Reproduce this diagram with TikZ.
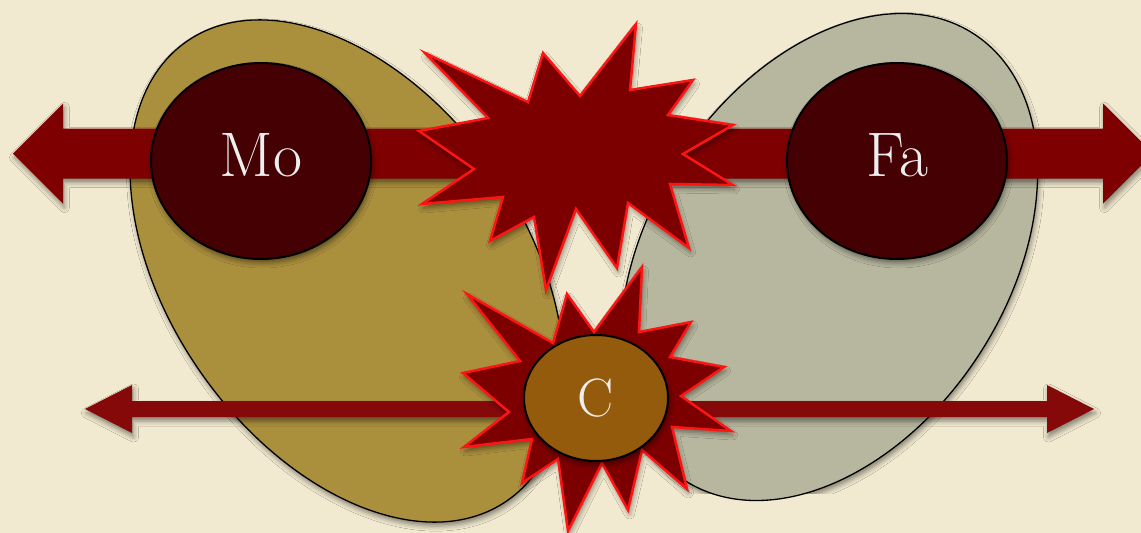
\documentclass[tikz,border=0pt]{standalone}
\usepackage{tikz}
\usetikzlibrary{calc,shapes.geometric,shadows.blur}
\definecolor{parchment}{HTML}{F2EAD0}
\definecolor{mothergold}{HTML}{AA8F3D}
\definecolor{fathergray}{HTML}{B7B69E}
\definecolor{parentdark}{HTML}{440003}
\definecolor{bondred}{HTML}{7E0000}
\definecolor{thinred}{HTML}{850909}
\definecolor{burstred}{HTML}{7D0000}
\definecolor{burstedge}{HTML}{FF1414}
\definecolor{childbrown}{HTML}{955B0C}
\definecolor{labelwhite}{HTML}{EEEEEE}
\tikzset{
every picture/.style={line join=round},
soft shadow/.style={
  blur shadow={shadow xshift=1.5pt,shadow yshift=-4pt,shadow blur radius=5pt,shadow opacity=45}
},
family blob/.style={
  ellipse,
  draw=black,
  line width=1.3pt,
  inner sep=0pt,
  soft shadow
},
parent node/.style={
  ellipse,
  draw=black,
  line width=2pt,
  fill=parentdark,
  text=labelwhite,
  inner sep=0pt,
  minimum width=220pt,
  minimum height=196pt,
  text depth=12pt,
  font=\fontsize{63}{63}\selectfont,
  soft shadow
},
child node/.style={
  ellipse,
  draw=black,
  line width=2pt,
  fill=childbrown,
  text=labelwhite,
  inner sep=0pt,
  minimum width=144pt,
  minimum height=126pt,
  font=\fontsize{54}{54}\selectfont,
  soft shadow
},
burst/.style={
  fill=burstred,
  draw=burstedge,
  line width=2.5pt,
  line join=miter,
  soft shadow
},
bond/.style={fill=bondred, soft shadow},
thin bond/.style={fill=thinred, soft shadow}
}
% fat double arrow: style, from, to, half shaft, half head, head length
\newcommand{\doublebond}[6]{%
  \fill[#1] (#2) -- ($(#2)+(#6,-#5)$) -- ($(#2)+(#6,-#4)$) -- ($(#3)+(-#6,-#4)$)
    -- ($(#3)+(-#6,-#5)$) -- (#3) -- ($(#3)+(-#6,#5)$) -- ($(#3)+(-#6,#4)$)
    -- ($(#2)+(#6,#4)$) -- ($(#2)+(#6,#5)$) -- cycle;}

\begin{document}
\begin{tikzpicture}[x=1pt,y=-1pt]
\fill[parchment] (0,0) rectangle (1141,533);
\useasboundingbox (0,0) rectangle (1141,533);
\clip (0,0) rectangle (1141,533);

% the two families
\node[family blob,fill=mothergold,minimum width=560pt,minimum height=356pt,rotate=-55] (mother side) at (347,271) {};
\node[family blob,fill=fathergray,minimum width=532pt,minimum height=358pt,rotate=57] (father side) at (829,257) {};

% bond between the parents
\coordinate (bond west) at (13,153.5);
\coordinate (bond east) at (1153,153.5);
\doublebond{bond}{bond west}{bond east}{25}{50}{50}

% clash
\draw[burst] (425,53) -- (528,102) -- (543,53) -- (580,96) -- (636,24) -- (630,90)
  -- (693,80) -- (668,115) -- (733,125) -- (683,154) -- (733,185) -- (670,184)
  -- (689,248) -- (628,203) -- (617,268) -- (576,209) -- (546,290) -- (534,217)
  -- (490,241) -- (503,197) -- (422,204) -- (474,169) -- (419,131) -- (488,118) -- cycle;

\node[parent node] (mo) at (261,161) {Mo};
\node[parent node] (fa) at (897,161) {Fa};

% bond of the child
\coordinate (child west) at (85,409);
\coordinate (child east) at (1094,409);
\doublebond{thin bond}{child west}{child east}{8}{24}{47}

\draw[burst] (467,294) -- (553,343) -- (567,294) -- (594,332) -- (642,267) -- (639,332)
  -- (691,322) -- (670,357) -- (724,367) -- (681,396) -- (731,431) -- (672,427)
  -- (687,489) -- (642,450) -- (628,510) -- (602,463) -- (568,531) -- (558,459)
  -- (522,483) -- (532,439) -- (464,447) -- (509,412) -- (463,373) -- (520,361) -- cycle;

\node[child node] (c) at (596,398) {C};
\end{tikzpicture}
\end{document}
